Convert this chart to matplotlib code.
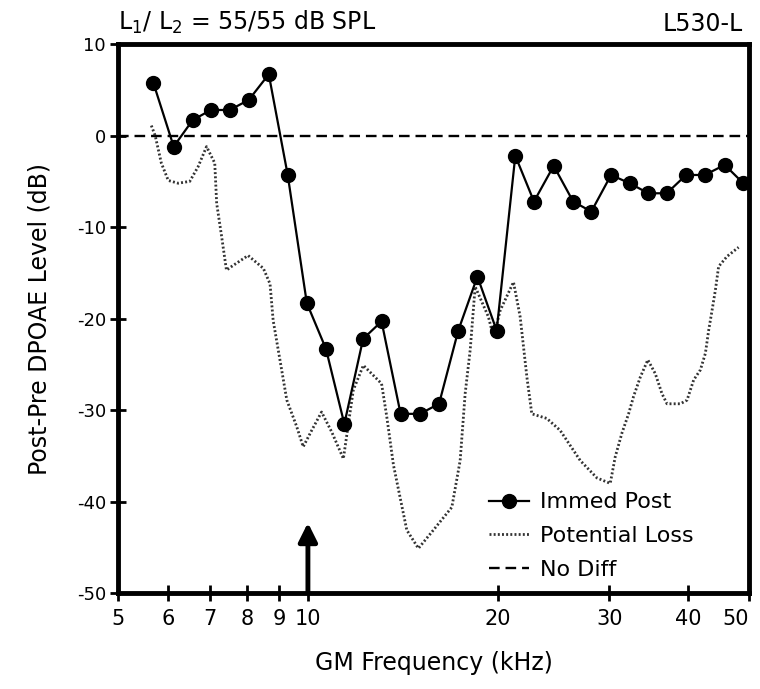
import numpy as np
import matplotlib
matplotlib.use('Agg')
import matplotlib.pyplot as plt
from matplotlib.ticker import FixedLocator, NullLocator

# Immed Post: GM frequency (kHz) and post-pre DPOAE level (dB)
immed_freq = [5.69, 6.13, 6.57, 7.02, 7.52, 8.06, 8.67, 9.29, 9.96, 10.68,
              11.42, 12.23, 13.08, 14.02, 15.05, 16.13, 17.3, 18.55, 19.9,
              21.3, 22.8, 24.5, 26.3, 28.1, 30.2, 32.3, 34.6, 37.0, 39.7,
              42.5, 45.7, 48.9]
immed_db = [5.8, -1.2, 1.7, 2.8, 2.8, 3.9, 6.7, -4.3, -18.3, -23.3,
            -31.5, -22.2, -20.3, -30.4, -30.4, -29.3, -21.3, -15.4, -21.3,
            -2.2, -7.2, -3.3, -7.2, -8.3, -4.3, -5.2, -6.3, -6.3, -4.3,
            -4.3, -3.2, -5.2]

# Potential Loss (dotted trace)
loss_freq = [5.65, 5.73, 5.86, 6.01, 6.23, 6.50, 6.70, 6.91, 7.12, 7.17,
             7.30, 7.43, 7.57, 8.04, 8.50, 8.71, 8.81, 9.03, 9.26, 9.60,
             9.83, 10.14, 10.51, 10.91, 11.38, 11.80, 12.24, 13.08, 13.33,
             13.66, 14.34, 14.96, 15.80, 16.90, 17.42, 17.74, 18.07, 18.40,
             19.31, 19.67, 20.16, 21.16, 21.68, 22.22, 22.62, 23.89, 25.08,
             26.99, 28.68, 30.11, 30.66, 31.42, 32.19, 32.78, 33.59, 34.53,
             35.48, 36.36, 37.03, 38.88, 39.84, 40.81, 41.82, 42.59, 43.10,
             43.64, 44.17, 44.70, 46.09, 48.08]
loss_db = [1.1, 0.0, -3.0, -4.9, -5.2, -5.0, -3.4, -1.2, -3.0, -7.4,
           -11.0, -14.7, -14.3, -13.1, -14.5, -16.2, -20.2, -24.5, -28.9, -31.8,
           -34.0, -32.2, -30.2, -32.4, -35.3, -27.8, -25.1, -27.1, -30.7,
           -36.0, -43.1, -45.1, -43.1, -40.6, -35.5, -28.2, -23.4, -16.5,
           -19.8, -22.0, -19.1, -16.0, -19.8, -26.4, -30.4, -30.9, -32.2,
           -35.5, -37.4, -38.0, -35.1, -32.5, -30.4, -28.5, -26.4, -24.5,
           -26.0, -28.2, -29.3, -29.3, -28.9, -26.7, -25.6, -23.8, -21.3,
           -19.1, -16.9, -14.3, -13.2, -12.2]

x_ticks = [5, 6, 7, 8, 9, 10, 20, 30, 40, 50]
y_ticks = [10, 0, -10, -20, -30, -40, -50]
arrow_freq = 10
arrow_tip = -42.3

plt.rcParams['font.family'] = 'DejaVu Sans'
plt.rcParams['axes.unicode_minus'] = False

fig = plt.figure(figsize=(7.6, 6.89), dpi=100)
ax = fig.add_axes([0.155, 0.139, 0.831, 0.797])

ax.axhline(0, color='k', lw=1.7, linestyle=(0, (4.5, 2.5)), label='No Diff',
           zorder=1)
ax.plot(loss_freq, loss_db, color='#333333', lw=2.0, linestyle=(0, (0.7, 0.8)),
        label='Potential Loss', zorder=2)
ax.plot(immed_freq, immed_db, color='k', lw=1.6, marker='o', markersize=10,
        label='Immed Post', zorder=3)

ax.annotate('', xy=(arrow_freq, arrow_tip), xytext=(arrow_freq, -50),
            arrowprops=dict(arrowstyle='-|>', lw=3.5, color='k',
                            mutation_scale=28, shrinkA=0, shrinkB=0))

ax.set_xscale('log')
ax.set_xlim(5, 50)
ax.set_ylim(-50, 10)
ax.xaxis.set_major_locator(FixedLocator(x_ticks))
ax.xaxis.set_minor_locator(NullLocator())
ax.set_xticklabels([str(t) for t in x_ticks])
ax.yaxis.set_major_locator(FixedLocator(y_ticks))

for sp in ax.spines.values():
    sp.set_linewidth(3.5)
ax.tick_params(axis='x', direction='inout', length=11, width=2, labelsize=15,
               pad=6)
ax.tick_params(axis='y', direction='inout', length=11, width=2, labelsize=13,
               pad=3)
# keep the last frequency label inside the figure
ax.get_xticklabels()[-1].set_horizontalalignment('right')
ax.get_xticklabels()[-1].set_x(50)

ax.set_xlabel('GM Frequency (kHz)', fontsize=17, labelpad=16)
ax.set_ylabel('Post-Pre DPOAE Level (dB)', fontsize=17, labelpad=18)

ax.text(0.0, 1.015, r'L$_1$/ L$_2$ = 55/55 dB SPL', transform=ax.transAxes,
        fontsize=17, ha='left', va='bottom')
ax.text(0.99, 1.015, 'L530-L', transform=ax.transAxes, fontsize=17,
        ha='right', va='bottom')

handles, labels = ax.get_legend_handles_labels()
order = [2, 1, 0]
ax.legend([handles[i] for i in order], [labels[i] for i in order],
          loc='lower left', bbox_to_anchor=(0.56, -0.008), frameon=False,
          fontsize=16, handlelength=1.8, handletextpad=0.5, labelspacing=0.62,
          borderpad=0.3)

fig.savefig('out.png', dpi=100)
